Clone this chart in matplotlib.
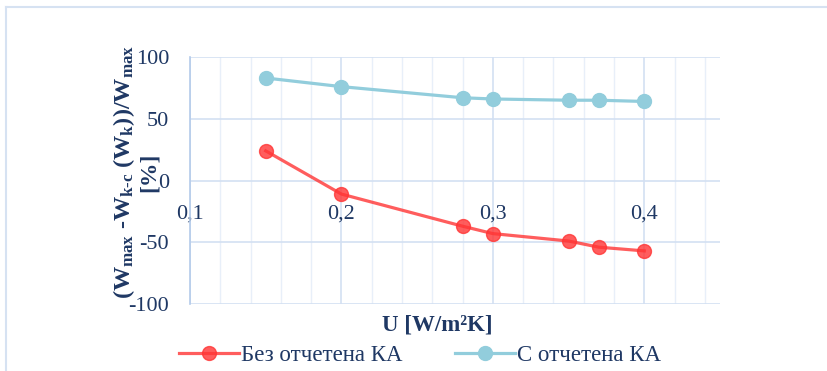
import matplotlib
matplotlib.use("Agg")
import matplotlib.pyplot as plt
from matplotlib.ticker import MultipleLocator, FuncFormatter
from matplotlib.lines import Line2D

# U-values and relative deviation, %
u_values = [0.15, 0.2, 0.28, 0.3, 0.35, 0.37, 0.4]
without_ka = [24, -11, -37, -43, -49, -54, -57]
with_ka = [83, 76, 67, 66, 65, 65, 64]

series_names = ["Без отчетена КА", "С отчетена КА"]
x_ticks = [0.1, 0.2, 0.3, 0.4]
y_ticks = [-100, -50, 0, 50, 100]

text_color = "#1F3864"
red = "#FF3535"
blue = "#92CDDC"

plt.rcParams["font.family"] = ["Liberation Serif", "DejaVu Serif"]
plt.rcParams["axes.unicode_minus"] = False
plt.rcParams["mathtext.fontset"] = "custom"
plt.rcParams["mathtext.rm"] = "Liberation Serif:bold"
plt.rcParams["mathtext.it"] = "Liberation Serif:bold"
plt.rcParams["mathtext.bf"] = "Liberation Serif:bold"

W, H = 827, 371
fig = plt.figure(figsize=(W / 100, H / 100), dpi=100)
ax = fig.add_axes([190 / W, 1 - 304 / H, 530 / W, 247 / H])

# outer frame (top and left edges only)
fig.add_artist(Line2D([6 / W, 6 / W], [0, 1 - 7 / H], transform=fig.transFigure,
                      color="#D6E2F2", lw=1.5))
fig.add_artist(Line2D([6 / W, 1], [1 - 7 / H, 1 - 7 / H], transform=fig.transFigure,
                      color="#D6E2F2", lw=1.5))

ax.plot(u_values, without_ka, color=red, alpha=0.8, lw=2.3, marker="o", ms=10,
        label=series_names[0], zorder=3)
ax.plot(u_values, with_ka, color=blue, lw=2.3, marker="o", ms=10,
        label=series_names[1], zorder=3)

ax.set_xlim(0.1, 0.45)
ax.set_ylim(-100, 100)
ax.set_xticks(x_ticks)
ax.xaxis.set_minor_locator(MultipleLocator(0.02))
ax.set_yticks(y_ticks)
ax.set_yticklabels([str(v) for v in y_ticks])
ax.xaxis.set_major_formatter(FuncFormatter(lambda v, p: f"{v:.1f}".replace(".", ",")))

ax.grid(which="major", color="#D3E0F2", lw=1.2)
ax.grid(which="minor", axis="x", color="#E8EFF9", lw=1.0)
ax.set_axisbelow(True)

for side in ["top", "right"]:
    ax.spines[side].set_visible(False)
ax.spines["left"].set_color("#B4CBEA")
ax.spines["left"].set_linewidth(1.2)
ax.spines["bottom"].set_position(("data", 0))
ax.spines["bottom"].set_visible(False)

ax.tick_params(axis="both", which="both", length=0, colors=text_color, labelsize=16)
ax.tick_params(axis="x", pad=17)
ax.tick_params(axis="y", pad=15)

fig.text(124 / W, 1 - 172 / H, r"$(W_{max}$ -$W_{k\text{-}c}$ $(W_k))/W_{max}$",
         rotation=90, ha="center", va="center", fontsize=17.5, fontweight="bold",
         color=text_color)
fig.text(149 / W, 1 - 172 / H, "[%]", rotation=90, ha="center", va="center",
         fontsize=17, fontweight="bold", color=text_color)

fig.text(437 / W, 1 - 325 / H, "U [W/m²K]", ha="center", va="center",
         fontsize=16.5, fontweight="bold", color=text_color)

leg = fig.legend(loc="center", bbox_to_anchor=(420 / W, 1 - 355 / H), ncol=2,
                 frameon=False, fontsize=16.5, handlelength=2.6, columnspacing=2.3,
                 handletextpad=0.1)
for t in leg.get_texts():
    t.set_color(text_color)

fig.savefig("out.png", dpi=100, facecolor="white")
